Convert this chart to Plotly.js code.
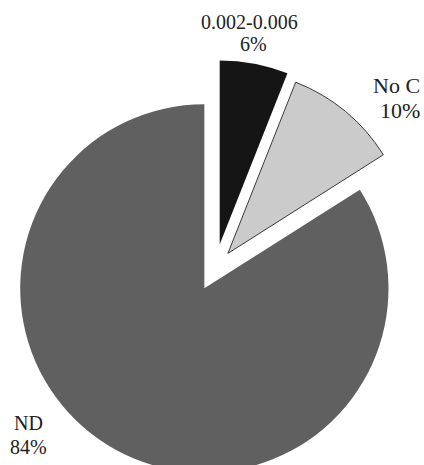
<!DOCTYPE html>
<html>
<head>
<meta charset="utf-8">
<script src="https://cdn.plot.ly/plotly-3.0.1.min.js"></script>
<style>
  html, body { margin: 0; padding: 0; background: #fff; overflow: hidden; }
  #frame { width: 424px; height: 465px; overflow: hidden; position: relative; }
  #chart { width: 424px; height: 500px; position: absolute; left: 0; top: 0; }
</style>
</head>
<body>
<div id="frame"><div id="chart"></div></div>
<script>
// Share of samples by result class (%)
const categories = ['0.002-0.006', 'No C', 'ND'];
const shares = [6, 10, 84];

// Slice styling
const sliceColors = ['#151515', '#cbcbcb', '#606060'];
const sliceEdge = ['#151515', '#3a3a3a', '#606060'];
const sliceEdgeWidth = [0, 1, 0];
const pulls = [0.135, 0.11, 0.12];

const W = 424, H = 500;

// Label anchor points (pixel centres) for the category name and its percentage
const nameSpots = [[249, 21.5], [396, 85], [28, 423]];
const pctSpots  = [[253, 44.5], [400, 111], [28, 446.5]];
const labelSize = [20, 22, 20];

const annotations = [];
categories.forEach((c, i) => {
  annotations.push({
    text: c, showarrow: false, xref: 'paper', yref: 'paper',
    x: nameSpots[i][0] / W, y: 1 - nameSpots[i][1] / H,
    xanchor: 'center', yanchor: 'middle',
    font: { family: 'Liberation Serif, Times New Roman, serif', size: labelSize[i], color: '#222' }
  });
  annotations.push({
    text: shares[i] + '%', showarrow: false, xref: 'paper', yref: 'paper',
    x: pctSpots[i][0] / W, y: 1 - pctSpots[i][1] / H,
    xanchor: 'center', yanchor: 'middle',
    font: { family: 'Liberation Serif, Times New Roman, serif', size: labelSize[i], color: '#222' }
  });
});

const trace = {
  type: 'pie',
  labels: categories,
  values: shares,
  sort: false,
  direction: 'clockwise',
  rotation: 0,
  pull: pulls,
  textinfo: 'none',
  hoverinfo: 'none',
  marker: { colors: sliceColors, line: { color: sliceEdge, width: sliceEdgeWidth } },
  domain: { x: [6 / W, 1], y: [1 - 478 / H, 1 - 60 / H] }
};

Plotly.newPlot('chart', [trace], {
  width: W, height: H,
  margin: { l: 0, r: 0, t: 0, b: 0 },
  paper_bgcolor: '#ffffff',
  showlegend: false,
  annotations: annotations
}, { staticPlot: true });
</script>
</body>
</html>
